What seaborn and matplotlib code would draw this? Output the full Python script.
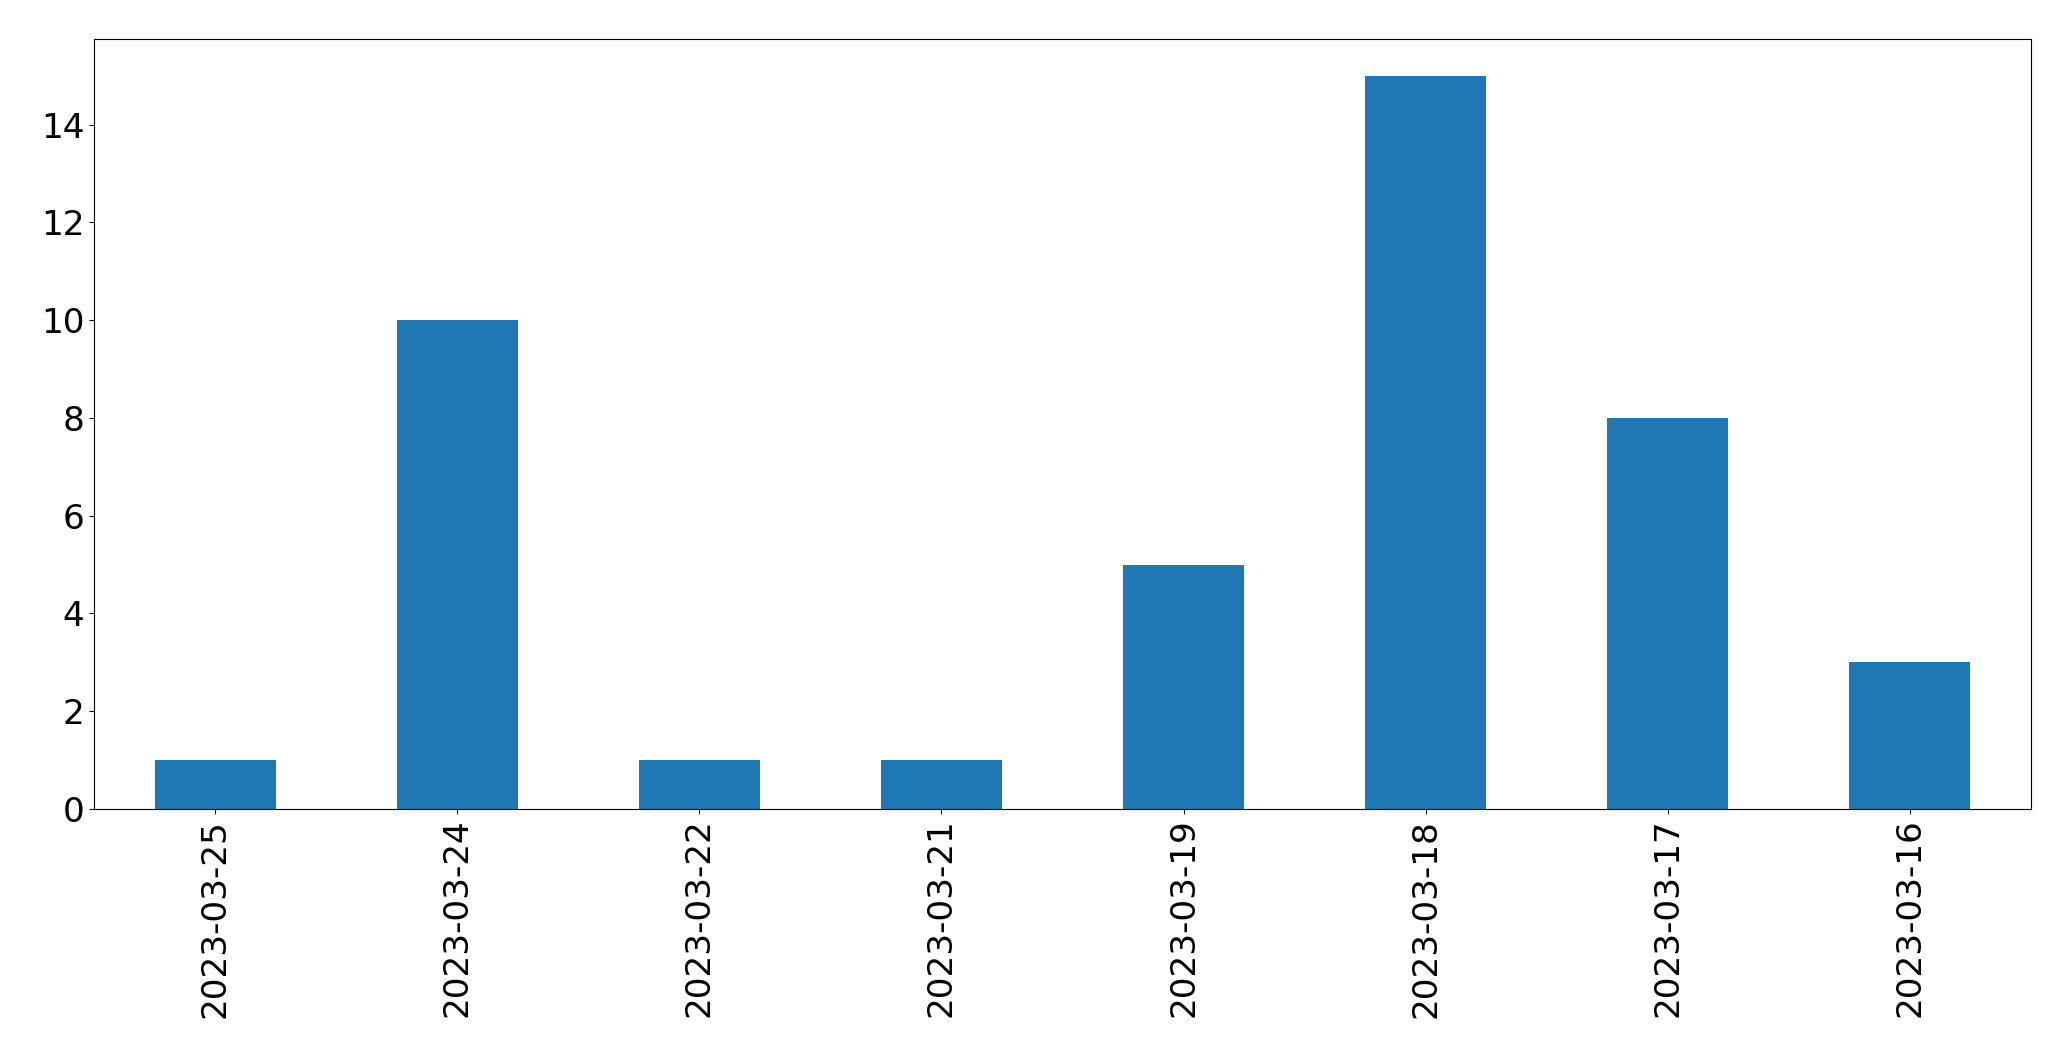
import matplotlib
matplotlib.use("Agg")
import matplotlib.pyplot as plt
import pandas as pd
import seaborn as sns

# posts per day
dates = ["2023-03-25", "2023-03-24", "2023-03-22", "2023-03-21",
         "2023-03-19", "2023-03-18", "2023-03-17", "2023-03-16"]
counts = [1, 10, 1, 1, 5, 15, 8, 3]

df = pd.DataFrame({"date": dates, "count": counts})

fig = plt.figure(figsize=(20.71, 10.61), dpi=100)
ax = fig.add_axes([94 / 2071, 1 - 809 / 1061, (2031 - 94) / 2071, (809 - 39) / 1061])

sns.barplot(x="date", y="count", data=df, order=dates, color="#1f77b4",
            saturation=1, width=0.5, linewidth=0, ax=ax)

ax.set_xlim(-0.5, len(dates) - 0.5)
ax.set_ylim(0, max(counts) * 1.05)
ax.set_yticks(range(0, 16, 2))
ax.set_xlabel("")
ax.set_ylabel("")
ax.tick_params(axis="both", labelsize=24.7)
plt.setp(ax.get_xticklabels(), rotation=90)

fig.savefig("out.png", dpi=100)
